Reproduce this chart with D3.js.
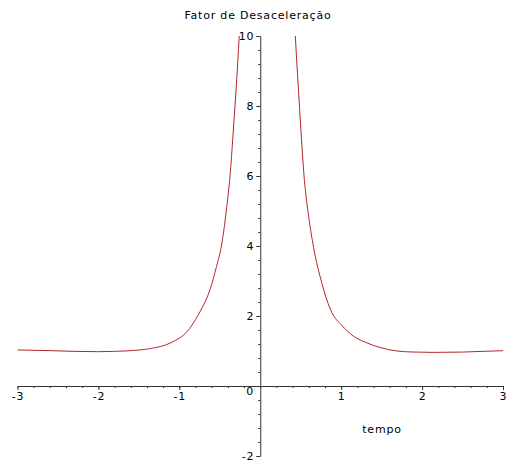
<!DOCTYPE html>
<html>
<head>
<meta charset="utf-8">
<script src="https://cdn.jsdelivr.net/npm/d3@7"></script>
<style>
  body { margin: 0; background: #fff; }
  svg text { font-family: "DejaVu Sans", Arial, sans-serif; font-size: 11px; letter-spacing: 0.8px; fill: #000; }
</style>
</head>
<body>
<div id="chart"></div>
<script>
// curve, two branches around the singularity
var tempoEsq = [-3, -2.6, -2.3, -2.0, -1.8, -1.6, -1.36, -1.11, -0.87, -0.8, -0.74, -0.62, -0.54, -0.48, -0.42, -0.37, -0.33, -0.295, -0.26];
var fatorEsq = [1.03, 1.01, 0.99, 0.98, 0.99, 1.01, 1.07, 1.23, 1.65, 1.9, 2.14, 2.76, 3.42, 4.0, 5.0, 6.1, 7.4, 8.6, 10.0];
var tempoDir = [0.433, 0.487, 0.545, 0.598, 0.66, 0.76, 0.887, 1.0, 1.155, 1.32, 1.48, 1.69, 1.9, 2.14, 2.5, 2.76, 3.0];
var fatorDir = [10, 7.9, 5.9, 4.85, 3.95, 2.95, 2.09, 1.75, 1.42, 1.23, 1.1, 1.0, 0.97, 0.96, 0.97, 0.99, 1.01];

var xTicks = [-3, -2, -1, 1, 2, 3];
var yTicks = [-2, 2, 4, 6, 8, 10];
var titulo = "Fator de Desaceleração";
var rotuloX = "tempo";

var width = 507, height = 463;

var svg = d3.select("#chart").append("svg")
    .attr("width", width)
    .attr("height", height);

var x = d3.scaleLinear().domain([-3, 3]).range([17.5, 503]);
var y = d3.scaleLinear().domain([-2, 10]).range([456, 36]);

var eixoCor = "#333";

// minor ticks
var xMinor = d3.range(-3, 3.001, 0.2).map(d => +d.toFixed(1));
var yMinor = d3.range(-2, 10.001, 0.4).map(d => +d.toFixed(1));

var gxm = svg.append("g")
    .attr("transform", "translate(0," + y(0) + ")")
    .call(d3.axisBottom(x).tickValues(xMinor).tickSize(2).tickFormat(""));
gxm.select(".domain").remove();

var gym = svg.append("g")
    .attr("transform", "translate(" + x(0) + ",0)")
    .call(d3.axisLeft(y).tickValues(yMinor).tickSize(2).tickFormat(""));
gym.select(".domain").remove();

// major axes
var gx = svg.append("g")
    .attr("transform", "translate(0," + y(0) + ")")
    .call(d3.axisBottom(x).tickValues(xTicks).tickSize(4).tickSizeOuter(0).tickPadding(2)
        .tickFormat(d => String(d)));

var gy = svg.append("g")
    .attr("transform", "translate(" + x(0) + ",0)")
    .call(d3.axisLeft(y).tickValues(yTicks).tickSize(4).tickSizeOuter(0).tickPadding(2)
        .tickFormat(d => String(d)));

[gx, gy, gxm, gym].forEach(function(g) {
    g.selectAll("line").attr("stroke", eixoCor);
    g.selectAll(".domain").attr("stroke", eixoCor);
    g.selectAll("text").attr("font-family", null).attr("font-size", null);
});

svg.append("text")
    .attr("x", x(0) - 10)
    .attr("y", y(0) + 9)
    .attr("text-anchor", "middle")
    .text("0");

// curve
var linha = d3.line()
    .x(d => x(d[0]))
    .y(d => y(d[1]))
    .curve(d3.curveMonotoneX);

var ramos = [
    d3.zip(tempoEsq, fatorEsq),
    d3.zip(tempoDir, fatorDir)
];

svg.selectAll("path.curva")
    .data(ramos)
    .enter()
    .append("path")
    .attr("class", "curva")
    .attr("d", linha)
    .attr("fill", "none")
    .attr("stroke", "#b3262b")
    .attr("stroke-width", 1);

// title and axis label
svg.append("text")
    .attr("x", 258)
    .attr("y", 19)
    .attr("text-anchor", "middle")
    .text(titulo);

svg.append("text")
    .attr("x", 382)
    .attr("y", 433)
    .attr("text-anchor", "middle")
    .text(rotuloX);
</script>
</body>
</html>
